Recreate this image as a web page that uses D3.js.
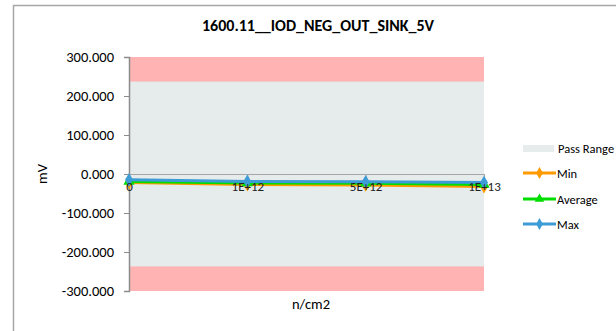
<!DOCTYPE html>
<html><head><meta charset="utf-8">
<script src="https://cdn.jsdelivr.net/npm/d3@7"></script>
<style>body{margin:0;background:#fff;} svg{display:block;font-family:Carlito,Lato,"Open Sans",sans-serif;}</style>
</head><body>
<svg id="c" width="616" height="331"></svg>
<script>
const categories = ["0", "1E+12", "5E+12", "1E+13"];
const minValues = [-22, -27, -28, -32];
const avgValues = [-19, -23, -24, -27];
const maxValues = [-15, -19, -20, -22];
const passRange = [-237, 237];
const yTicks = [300, 200, 100, 0, -100, -200, -300];
const title = "1600.11__IOD_NEG_OUT_SINK_5V";

const svg = d3.select("#c");
svg.append("rect").attr("x", 13.5).attr("y", 5.5).attr("width", 640).attr("height", 340)
  .attr("fill", "#fff").attr("stroke", "#a6a6a6").attr("stroke-width", 1.5);

const L = 129, R = 484, T = 57, B = 291;
const x = d3.scalePoint().domain(categories).range([L, R]);
const y = d3.scaleLinear().domain([-300, 300]).range([B, T]);

// bands
svg.append("rect").attr("x", L).attr("width", R - L).attr("y", y(300)).attr("height", y(-300) - y(300)).attr("fill", "#ffb3b3");
svg.append("rect").attr("x", L).attr("width", R - L).attr("y", y(passRange[1])).attr("height", y(passRange[0]) - y(passRange[1])).attr("fill", "#e6ebeb");

// y axis
const yAxis = d3.axisLeft(y).tickValues(yTicks).tickSize(5).tickFormat(d => d3.format(".3f")(d).replace("\u2212", "-"));
const ga = svg.append("g").attr("transform", `translate(${L},0)`).call(yAxis);
ga.select(".domain").attr("stroke", "#8c8c8c").attr("stroke-width", 1.5);
ga.selectAll(".tick line").attr("stroke", "#8c8c8c");
ga.selectAll(".tick text").attr("font-size", 14.5).attr("fill", "#000").attr("x", -15).attr("font-family", "Carlito,Lato,sans-serif");

const series = [
  {name: "Min", vals: minValues, color: "#ff9a00", shape: d3.symbolDiamond},
  {name: "Average", vals: avgValues, color: "#00dd00", shape: d3.symbolTriangle},
  {name: "Max", vals: maxValues, color: "#3d9bd6", shape: d3.symbolDiamond}
];

// x axis line at 0 (under series)
const xAxis = d3.axisBottom(x).tickSize(4);
const gx = svg.append("g").attr("transform", `translate(0,${y(0)})`).call(xAxis);
gx.select(".domain").attr("stroke", "#a6a6a6").attr("stroke-width", 1.2);
gx.selectAll(".tick line").attr("stroke", "#a6a6a6");
gx.selectAll(".tick text").remove();

const line = d3.line().x((d, i) => x(categories[i])).y(d => y(d));
series.forEach(s => {
  svg.append("path").datum(s.vals).attr("d", line).attr("fill", "none").attr("stroke", s.color).attr("stroke-width", 3);
  svg.selectAll(null).data(s.vals).enter().append("path")
    .attr("d", d3.symbol().type(s.shape).size(55))
    .attr("transform", (d, i) => `translate(${x(categories[i])},${y(d)})`)
    .attr("fill", s.color);
});

// x tick labels on top
const gx2 = svg.append("g").attr("transform", `translate(0,${y(0)})`).call(d3.axisBottom(x).tickSize(0));
gx2.select(".domain").remove();
gx2.selectAll(".tick text").attr("font-size", 13).attr("fill", "#222").attr("dy", "1.05em").attr("font-family", "Carlito,Lato,sans-serif");

// title
svg.append("text").attr("x", 318).attr("y", 31).attr("text-anchor", "middle")
  .attr("font-size", 16).attr("font-weight", "bold").text(title);
// axis titles
svg.append("text").attr("transform", `translate(47,${y(0)}) rotate(-90)`).attr("text-anchor", "middle")
  .attr("font-size", 14.5).text("mV");
svg.append("text").attr("x", 311).attr("y", 309).attr("text-anchor", "middle").attr("font-size", 14.5).text("n/cm2");

// legend
const lg = svg.append("g").attr("font-size", 12.5);
lg.append("rect").attr("x", 523).attr("y", 145).attr("width", 31).attr("height", 7).attr("fill", "#e6ebeb");
lg.append("text").attr("x", 558).attr("y", 153).text("Pass Range");
const legY = [173, 199, 224];
series.forEach((s, i) => {
  lg.append("line").attr("x1", 523).attr("x2", 556).attr("y1", legY[i]).attr("y2", legY[i]).attr("stroke", s.color).attr("stroke-width", 3);
  lg.append("path").attr("d", d3.symbol().type(s.shape).size(40)).attr("transform", `translate(539.5,${legY[i]})`).attr("fill", s.color);
  lg.append("text").attr("x", 557).attr("y", legY[i] + 4.5).text(s.name);
});
</script>
</body></html>
